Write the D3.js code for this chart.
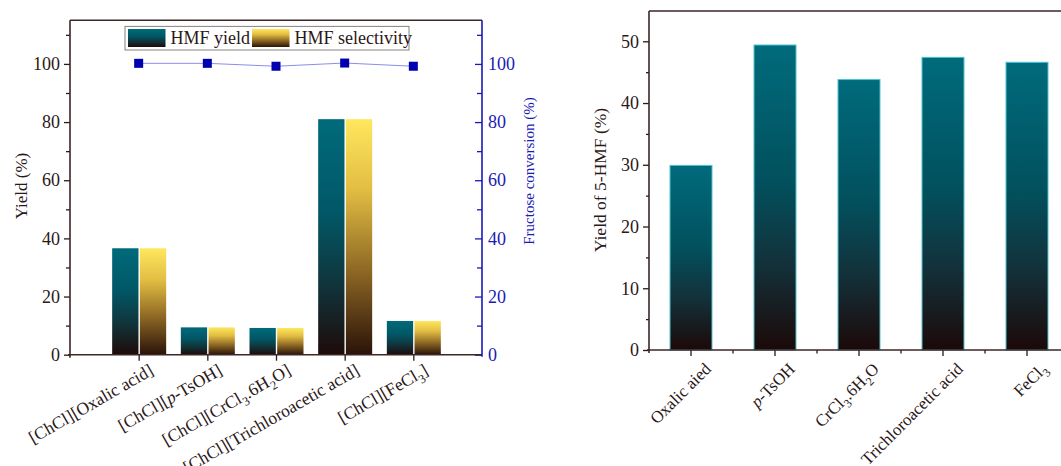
<!DOCTYPE html>
<html>
<head>
<meta charset="utf-8">
<script src="https://cdn.jsdelivr.net/npm/d3@7"></script>
<style>
  html, body { margin: 0; padding: 0; background: #fff; }
  svg { display: block; font-family: "Liberation Serif", "Times New Roman", serif; }
</style>
</head>
<body>
<svg id="chart" width="1061" height="466"></svg>
<script>
// ---------- data: left panel ----------
const leftCategories = ["[ChCl][Oxalic acid]", "[ChCl][p-TsOH]", "[ChCl][CrCl3.6H2O]", "[ChCl][Trichloroacetic acid]", "[ChCl][FeCl3]"];
const hmfYield = [36.6, 9.4, 9.2, 81.0, 11.6];
const hmfSelectivity = [36.6, 9.4, 9.2, 81.0, 11.6];
const fructoseConversion = [100.2, 100.2, 99.2, 100.3, 99.2];
const leftSeriesNames = ["HMF yield", "HMF selectivity"];
const leftMajorTicks = [0, 20, 40, 60, 80, 100];
const leftMinorTicks = [10, 30, 50, 70, 90, 110];
const leftYLabel = "Yield (%)";
const leftY2Label = "Fructose conversion (%)";

// ---------- data: right panel ----------
const rightCategories = ["Oxalic aied", "p-TsOH", "CrCl3.6H2O", "Trichloroacetic acid", "FeCl3"];
const rightYield = [29.9, 49.4, 43.8, 47.4, 46.6];
const rightMajorTicks = [0, 10, 20, 30, 40, 50];
const rightMinorTicks = [5, 15, 25, 35, 45];
const rightYLabel = "Yield of 5-HMF (%)";

// ---------- style ----------
const axisColor = "#3d2626";
const textColor = "#2b1818";
const blue = "#1a1ab4";

const svg = d3.select("#chart");
const defs = svg.append("defs");

function gradient(id, stops) {
  const g = defs.append("linearGradient").attr("id", id)
    .attr("x1", 0).attr("y1", 0).attr("x2", 0).attr("y2", 1);
  stops.forEach(s => g.append("stop").attr("offset", s[0]).attr("stop-color", s[1]));
}
gradient("gTeal", [[0, "#006a7b"], [0.4, "#015766"], [0.7, "#10353c"], [1, "#1e0b09"]]);
gradient("gGold", [[0, "#ffe75e"], [0.3, "#e2bd42"], [0.65, "#8c6624"], [1, "#2a1309"]]);
gradient("gTeal2", [[0, "#006b7c"], [0.45, "#02505d"], [0.72, "#13313a"], [1, "#1c0908"]]);

// rich text: italic "p-" prefix, subscripts for digits directly after a letter
function richText(sel, str, fontSize) {
  const tokens = [];
  let i = 0;
  while (i < str.length) {
    const ch = str[i];
    const prev = i > 0 ? str[i - 1] : "";
    if (ch === "p" && str[i + 1] === "-" && (i === 0 || prev === "[")) {
      tokens.push({t: "p", italic: true}); i++; continue;
    }
    if (/[0-9]/.test(ch) && /[A-Za-z]/.test(prev)) {
      tokens.push({t: ch, sub: true}); i++; continue;
    }
    const last = tokens[tokens.length - 1];
    if (last && !last.sub && !last.italic) last.t += ch; else tokens.push({t: ch});
    i++;
  }
  let shifted = 0;
  tokens.forEach(tok => {
    const ts = sel.append("tspan").text(tok.t);
    if (tok.italic) ts.attr("font-style", "italic");
    if (tok.sub) {
      ts.attr("font-size", fontSize * 0.7).attr("dy", fontSize * 0.28);
      shifted = fontSize * 0.28;
    } else if (shifted) {
      ts.attr("dy", -shifted); shifted = 0;
    }
  });
}

function styleAxis(g, color, fontSize) {
  g.select(".domain").remove();
  g.selectAll("line").attr("stroke", color).attr("stroke-width", 1.3);
  g.selectAll("text").attr("fill", color).attr("font-size", fontSize)
    .attr("font-family", "Liberation Serif");
}

// =============== LEFT PANEL ===============
const L = {left: 70, right: 482, top: 20.3, bottom: 354.7};
const yL = d3.scaleLinear().domain([0, 115]).range([L.bottom, L.top]);
const xL = d3.scalePoint().domain(leftCategories).range([L.left, L.right]).padding(1);
const xSub = d3.scaleBand().domain(leftSeriesNames).range([-26.5, 27.5]).paddingInner(0.05);

const left = svg.append("g");

// bars
const groups = left.selectAll("g.grp").data(leftCategories).join("g")
  .attr("transform", d => `translate(${xL(d)},0)`);
groups.append("rect")
  .attr("x", xSub("HMF yield")).attr("width", xSub.bandwidth())
  .attr("y", (d, i) => yL(hmfYield[i])).attr("height", (d, i) => yL(0) - yL(hmfYield[i]))
  .attr("fill", "url(#gTeal)");
groups.append("rect")
  .attr("x", xSub("HMF selectivity")).attr("width", xSub.bandwidth())
  .attr("y", (d, i) => yL(hmfSelectivity[i])).attr("height", (d, i) => yL(0) - yL(hmfSelectivity[i]))
  .attr("fill", "url(#gGold)");

// left y axis
const gLy = left.append("g").attr("transform", `translate(${L.left},0)`)
  .call(d3.axisLeft(yL).tickValues(leftMajorTicks).tickSize(6).tickPadding(4));
styleAxis(gLy, textColor, 18);
const gLym = left.append("g").attr("transform", `translate(${L.left},0)`)
  .call(d3.axisLeft(yL).tickValues(leftMinorTicks).tickSize(4).tickFormat(""));
styleAxis(gLym, textColor, 18);

// right (conversion) y axis
const gRy = left.append("g").attr("transform", `translate(${L.right},0)`)
  .call(d3.axisRight(yL).tickValues(leftMajorTicks).tickSizeInner(-7).tickSizeOuter(0).tickPadding(6));
styleAxis(gRy, blue, 18);
const gRym = left.append("g").attr("transform", `translate(${L.right},0)`)
  .call(d3.axisRight(yL).tickValues(leftMinorTicks).tickSizeInner(-5).tickSizeOuter(0).tickFormat(""));
styleAxis(gRym, blue, 18);

// bottom axis ticks
const gLx = left.append("g").attr("transform", `translate(0,${L.bottom})`)
  .call(d3.axisBottom(xL).tickSize(6).tickFormat(""));
styleAxis(gLx, textColor, 16);

// frame lines
left.append("line").attr("x1", L.left).attr("x2", L.left).attr("y1", L.top).attr("y2", L.bottom + 3)
  .attr("stroke", axisColor).attr("stroke-width", 1.6);
left.append("line").attr("x1", L.left - 2).attr("x2", L.right).attr("y1", L.bottom).attr("y2", L.bottom)
  .attr("stroke", axisColor).attr("stroke-width", 1.6);
left.append("line").attr("x1", L.left).attr("x2", L.right).attr("y1", L.top).attr("y2", L.top)
  .attr("stroke", axisColor).attr("stroke-width", 1.6);
left.append("line").attr("x1", L.right).attr("x2", L.right).attr("y1", L.top).attr("y2", L.bottom + 2)
  .attr("stroke", blue).attr("stroke-width", 1.6);

// x labels
left.append("g").selectAll("text").data(leftCategories).join("text")
  .attr("text-anchor", "end")
  .attr("font-size", 17.5).attr("fill", textColor)
  .attr("transform", d => `translate(${xL(d) + 16},${L.bottom + 19}) rotate(-30)`)
  .each(function (d) { richText(d3.select(this), d, 17.5); });

// conversion line + markers
const convLine = d3.line().x((d, i) => xL(leftCategories[i])).y(d => yL(d));
left.append("path").datum(fructoseConversion).attr("d", convLine)
  .attr("fill", "none").attr("stroke", "#8c8cec").attr("stroke-width", 1);
left.append("g").selectAll("rect").data(fructoseConversion).join("rect")
  .attr("x", (d, i) => xL(leftCategories[i]) - 4.5).attr("y", d => yL(d) - 4.5)
  .attr("width", 9).attr("height", 9).attr("fill", "#0000b0");

// legend
const lg = left.append("g");
lg.append("rect").attr("x", 125).attr("y", 26.4).attr("width", 284).attr("height", 23.6)
  .attr("fill", "#fff").attr("stroke", "#8a8080").attr("stroke-width", 1);
const legendItems = [
  {name: leftSeriesNames[0], fill: "url(#gTeal)", x: 128},
  {name: leftSeriesNames[1], fill: "url(#gGold)", x: 252}
];
legendItems.forEach(it => {
  lg.append("rect").attr("x", it.x).attr("y", 29).attr("width", 37.5).attr("height", 18).attr("fill", it.fill);
  lg.append("text").attr("x", it.x + 42.5).attr("y", 44).attr("font-size", 18).attr("fill", textColor).text(it.name);
});

// axis titles
left.append("text").attr("transform", `translate(27,186) rotate(-90)`)
  .attr("text-anchor", "middle").attr("font-size", 17).attr("fill", textColor).text(leftYLabel);
left.append("text").attr("transform", `translate(534,171) rotate(-90)`)
  .attr("text-anchor", "middle").attr("font-size", 15).attr("fill", blue).text(leftY2Label);

// =============== RIGHT PANEL ===============
const R = {left: 649, right: 1069, top: 11, bottom: 350};
const yR = d3.scaleLinear().domain([0, 55]).range([R.bottom, R.bottom - 55 * 6.174]);
const xR = d3.scaleBand().domain(rightCategories).range([R.left, R.right]).paddingInner(0.5).paddingOuter(0.25);

const right = svg.append("g");

right.append("g").selectAll("rect").data(rightCategories).join("rect")
  .attr("x", d => xR(d)).attr("width", xR.bandwidth())
  .attr("y", (d, i) => yR(rightYield[i])).attr("height", (d, i) => yR(0) - yR(rightYield[i]))
  .attr("fill", "url(#gTeal2)").attr("stroke", "#4cc3cf").attr("stroke-width", 1);

const gR2y = right.append("g").attr("transform", `translate(${R.left},0)`)
  .call(d3.axisLeft(yR).tickValues(rightMajorTicks).tickSize(6).tickPadding(4));
styleAxis(gR2y, textColor, 18);
const gR2ym = right.append("g").attr("transform", `translate(${R.left},0)`)
  .call(d3.axisLeft(yR).tickValues(rightMinorTicks).tickSize(3).tickFormat(""));
styleAxis(gR2ym, textColor, 18);

const gR2x = right.append("g").attr("transform", `translate(0,${R.bottom})`)
  .call(d3.axisBottom(xR).tickSize(6).tickFormat(""));
styleAxis(gR2x, textColor, 17);
const minorX = rightCategories.slice(1).map(c => xR(c) - (xR.step() - xR.bandwidth()) / 2);
right.append("g").selectAll("line").data(minorX).join("line")
  .attr("x1", d => d).attr("x2", d => d).attr("y1", R.bottom).attr("y2", R.bottom + 3.5)
  .attr("stroke", textColor).attr("stroke-width", 1.3);

right.append("line").attr("x1", R.left).attr("x2", R.left).attr("y1", R.top).attr("y2", R.bottom + 3)
  .attr("stroke", axisColor).attr("stroke-width", 1.6);
right.append("line").attr("x1", R.left - 2).attr("x2", R.right).attr("y1", R.bottom).attr("y2", R.bottom)
  .attr("stroke", axisColor).attr("stroke-width", 1.6);
right.append("line").attr("x1", R.left).attr("x2", R.right).attr("y1", R.top).attr("y2", R.top)
  .attr("stroke", axisColor).attr("stroke-width", 1.6);

right.append("g").selectAll("text").data(rightCategories).join("text")
  .attr("text-anchor", "end")
  .attr("font-size", 17).attr("fill", textColor)
  .attr("transform", d => `translate(${xR(d) + xR.bandwidth() / 2 + 21},${R.bottom + 20}) rotate(-45)`)
  .each(function (d) { richText(d3.select(this), d, 17); });

right.append("text").attr("transform", `translate(606,180) rotate(-90)`)
  .attr("text-anchor", "middle").attr("font-size", 17.5).attr("fill", textColor).text(rightYLabel);
</script>
</body>
</html>
